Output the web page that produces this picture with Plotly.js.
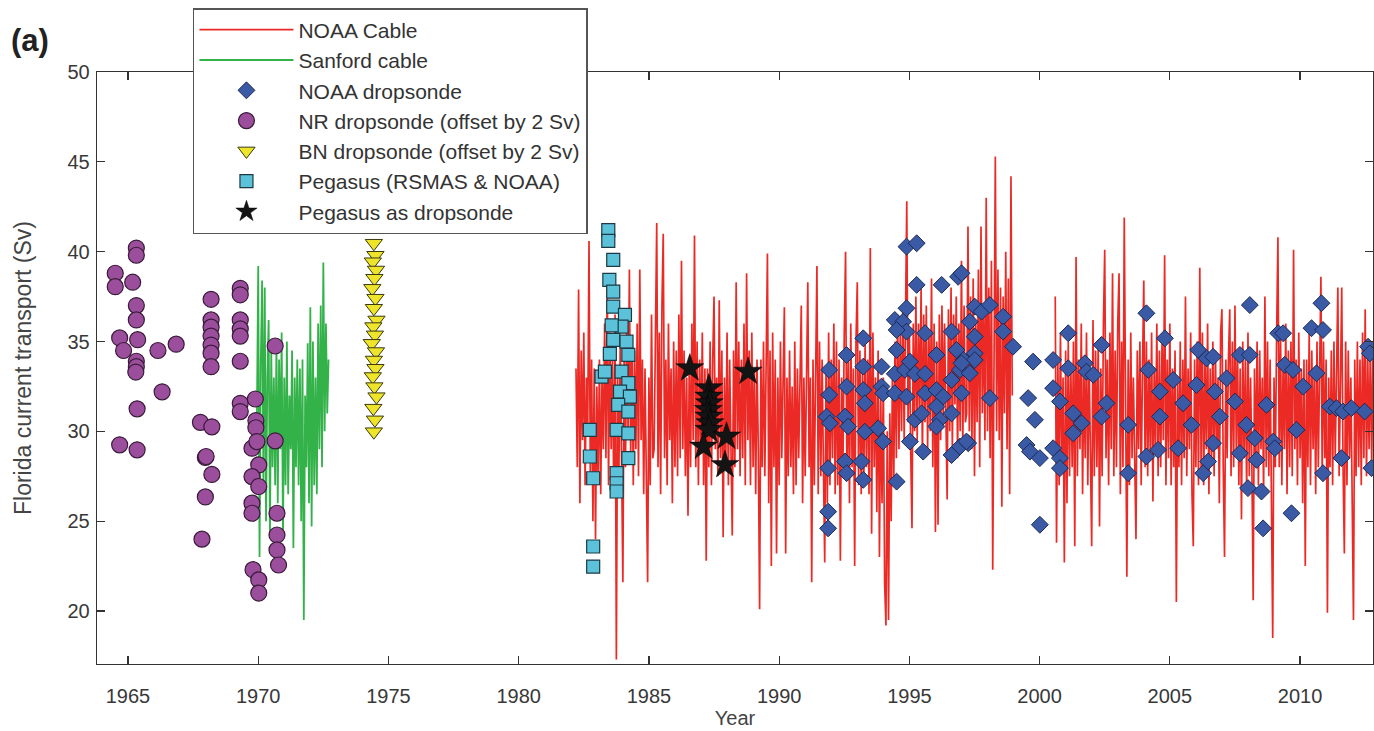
<!DOCTYPE html>
<html>
<head>
<meta charset="utf-8">
<script src="https://cdn.plot.ly/plotly-3.0.1.min.js"></script>
<style>html,body{margin:0;padding:0;background:#fff}#chart{width:1374px;height:731px}</style>
</head>
<body>
<div id="chart"></div>
<script>
// ---------- DATA ----------
// NOAA cable: sampled every 0.05 yr from 1982.2 (null = no data)
const cableStart = 1982.2;
const cableStep = 0.05;
const noaaCableSv = [
  33.5,28.0,37.9,26.0,34.5,29.5,35.5,27.0,33.0,30.0,40.6,27.5,34.0,25.0,33.5,24.0,32.5,27.0,34.0,26.5,
  33.0,29.0,36.0,28.5,38.5,27.0,35.5,29.0,34.0,26.5,36.5,17.3,33.0,28.0,35.0,27.5,21.6,34.5,28.0,36.0,
  30.0,39.0,28.5,35.0,27.0,34.5,29.0,36.0,27.5,39.0,29.5,34.0,26.5,33.5,28.0,21.6,33.0,27.0,36.5,28.5,
  29.0,34.0,41.6,28.0,35.5,26.5,37.0,41.0,28.5,34.0,27.0,36.0,29.5,33.5,26.0,35.0,28.0,34.5,27.5,36.5,
  28.5,39.5,29.0,34.5,27.5,33.0,25.3,34.0,28.0,36.0,29.5,40.9,28.0,35.0,27.0,34.0,29.0,35.5,27.0,33.5,
  22.8,33.5,28.0,35.0,27.0,34.0,37.5,29.0,33.0,27.5,37.3,28.5,34.5,24.1,33.0,28.0,35.5,27.0,34.0,29.0,
  24.2,34.5,28.0,38.3,29.0,35.0,27.5,34.0,28.5,36.0,27.0,38.8,29.5,34.5,27.0,35.5,28.0,33.5,26.5,34.0,
  29.0,20.1,34.0,28.0,35.0,27.5,33.5,39.9,26.0,34.5,22.5,35.5,28.0,34.0,23.2,33.0,27.0,35.0,28.5,34.0,
  36.9,23.2,33.0,27.5,34.5,28.0,32.5,26.5,35.0,27.0,33.5,28.5,34.0,37.0,26.0,33.0,27.5,34.5,38.3,28.0,
  33.0,21.6,34.0,27.0,33.5,39.2,26.5,35.0,27.5,34.0,28.0,22.7,33.5,26.0,35.5,27.0,34.0,28.5,36.0,26.5,
  35.0,27.0,34.0,22.8,33.0,28.0,35.5,40.0,27.5,34.0,26.0,36.0,28.0,33.5,22.5,35.0,38.3,27.0,34.5,26.5,
  33.5,27.0,35.0,28.0,34.0,26.5,40.2,24.3,35.5,28.0,33.0,25.5,34.5,23.0,32.0,26.0,33.0,21.5,19.2,30.0,
  19.5,31.0,25.0,33.5,27.0,35.0,28.5,36.5,29.0,35.5,30.0,37.0,29.5,36.0,42.8,30.5,35.5,29.0,24.6,36.0,
  30.0,37.5,29.5,36.0,31.0,38.0,28.5,36.5,30.5,37.0,29.0,35.5,30.0,38.5,28.0,36.0,24.4,35.0,24.8,36.5,
  29.5,37.0,30.5,36.0,31.0,26.2,36.8,30.0,38.0,29.0,36.5,31.5,37.5,28.5,36.0,30.0,39.5,29.0,37.0,30.5,
  31.0,41.4,30.0,37.5,29.0,38.5,27.5,36.0,30.5,39.0,28.0,41.4,31.0,37.0,29.5,43.0,30.0,38.0,28.5,39.5,
  22.3,36.0,45.3,30.0,39.0,29.5,38.0,25.8,37.5,31.0,40.0,29.0,38.5,26.5,44.2,32.0,null,null,null,null,
  null,null,null,null,null,null,null,null,null,null,null,null,null,null,null,null,null,null,null,null,
  null,null,null,null,null,null,null,null,37.5,23.8,34.0,27.0,35.5,28.0,33.0,22.7,34.5,26.0,35.0,27.5,
  33.5,28.0,35.0,23.6,39.7,27.5,34.0,29.0,36.0,26.5,33.5,28.5,35.5,27.0,34.0,29.5,23.6,36.2,27.5,34.5,
  28.0,35.0,24.7,33.5,27.5,36.0,40.1,28.5,34.0,27.0,35.5,29.0,38.8,27.5,34.5,28.0,36.0,38.8,26.5,35.0,
  28.0,41.9,30.0,21.9,34.0,27.0,35.5,28.5,33.0,27.5,24.0,34.5,29.0,35.0,27.0,33.5,38.4,28.0,35.0,27.5,
  34.0,28.5,35.5,26.1,33.5,29.0,36.0,27.5,34.5,28.0,35.0,29.5,39.8,27.0,34.0,28.5,36.0,27.0,33.5,28.0,
  34.5,20.5,33.0,28.0,35.0,27.0,34.0,28.5,37.5,27.5,33.5,29.0,35.5,26.5,23.6,34.0,28.0,35.0,27.0,39.1,
  28.0,35.5,27.0,34.0,29.0,36.0,26.5,33.5,28.5,35.0,27.5,34.5,29.0,33.0,26.0,35.5,36.8,28.0,23.0,34.0,
  28.5,34.0,36.8,27.5,35.0,28.0,37.0,29.0,34.5,27.0,33.5,25.1,35.0,28.5,34.0,26.5,35.5,27.5,33.0,28.0,
  20.6,33.5,28.0,35.0,27.0,34.5,29.0,33.0,26.5,37.5,28.0,35.0,27.5,34.0,26.0,18.5,33.0,28.0,35.5,40.8,
  28.0,35.5,27.0,34.0,29.0,36.0,26.5,34.5,28.0,35.0,27.5,40.1,29.0,34.0,27.0,35.5,28.5,33.5,26.0,34.0,
  22.5,34.0,28.0,35.5,27.0,34.5,29.0,33.5,26.5,35.0,28.0,34.0,38.6,27.5,35.0,28.5,34.0,19.9,33.0,28.0,
  34.5,27.0,35.0,28.5,33.5,38.0,27.5,34.0,38.0,28.0,23.2,35.0,27.0,34.5,28.5,33.0,26.5,19.5,34.0,27.5,
  35.0,28.0,34.0,27.0,35.5,28.5,36.8,27.5,34.0,29.0,35.0,28.0,34.5
];

// Sanford cable: sampled every 0.05 yr from 1969.95
const sanfordStart = 1969.95;
const sanfordStep = 0.05;
const sanfordCableSv = [
  31.0,39.2,23.0,34.0,38.4,27.0,38.0,25.0,33.0,36.2,24.1,34.5,28.0,33.0,27.0,35.0,26.0,34.0,29.0,35.5,
  24.0,33.0,27.0,35.0,26.5,32.0,29.0,34.5,23.5,33.0,28.0,34.0,27.0,33.5,25.0,34.0,19.5,32.0,28.0,34.9,
  26.0,36.9,24.7,35.0,27.0,33.0,26.5,36.0,29.0,37.0,28.0,39.4,30.0,36.0,31.0,34.0
];

const noaaDropYear = [
  1994.89,1995.28,1995.28,1996.24,1996.87,1997.0,1997.51,1994.89,1994.44,1994.76,1994.89,1994.51,1994.51,1995.6,1996.62,1997.32,
  1993.23,1992.59,1991.92,1993.23,1993.93,1994.44,1994.83,1995.21,1995.6,1995.02,1996.04,1996.81,1997.07,1996.94,1997.32,
  1991.92,1992.59,1993.23,1993.29,1993.93,1993.99,1994.44,1994.89,1995.6,1996.04,1996.3,1996.62,1997.0,1995.21,1995.47,
  1996.04,1996.17,1996.62,1996.04,1991.82,1991.95,1992.53,1992.65,1993.29,1993.8,1993.99,1995.02,1995.53,1996.62,1996.94,
  1997.26,1991.88,1992.53,1992.59,1993.16,1993.23,1994.51,1991.88,1991.88,
  1997.77,1998.09,1998.6,1998.6,1998.98,1997.51,1997.51,1997.51,1997.0,1998.09,1997.19,1999.75,1999.56,1999.82,1999.5,
  1999.63,2000.01,2000.01,2000.52,2000.52,2000.78,2000.52,2000.78,2000.78,2001.1,2001.1,2001.29,2001.61,2001.29,2001.74,
  2001.8,2002.06,2002.38,2002.57,2002.38,2003.4,2003.4,2004.1,2004.17,2004.62,2004.62,2004.1,2004.55,2004.81,
  2005.13,2005.32,2005.51,2005.83,2006.09,2006.02,2006.41,2006.66,2006.28,2006.47,2006.66,2006.73,2006.92,2007.18,2007.5,
  2007.69,2008.07,2008.07,2007.69,2007.94,2008.26,2008.0,2008.52,2008.33,2008.58,2008.71,2008.97,2009.03,2009.16,2009.35,
  2009.41,2009.73,2009.67,2009.86,2010.12,2010.44,2010.63,2010.82,2010.88,2010.88,2011.14,2011.4,2011.65,2011.97,2012.48,
  2011.59,2012.61,2012.68,2012.74
];
const noaaDropSv = [
  40.28,40.47,38.15,38.15,38.6,38.8,36.94,36.85,36.2,36.1,35.55,35.64,34.53,35.46,35.55,36.1,
  35.18,34.25,33.42,33.6,33.6,33.2,33.42,33.2,33.2,33.88,34.25,34.53,33.97,33.42,33.23,
  32.03,32.49,32.3,31.56,32.49,32.12,32.12,31.93,32.12,32.3,31.93,32.86,32.12,30.64,31.0,
  31.38,30.64,31.0,30.27,30.82,30.45,30.82,30.27,29.98,30.17,29.43,29.43,28.87,28.68,29.15,
  29.34,27.95,28.32,27.67,28.32,27.3,27.2,25.53,24.6,
  36.66,37.03,36.38,35.55,34.71,35.27,34.34,33.97,33.79,31.85,29.43,33.88,31.85,30.64,29.24,
  28.87,28.51,24.8,33.97,32.4,31.66,29.06,28.51,27.95,35.46,33.51,31.0,30.45,29.89,33.79,
  33.32,33.14,34.81,31.56,30.82,30.36,27.67,36.57,33.42,32.21,30.82,28.6,28.97,35.18,
  32.86,29.06,31.56,30.36,34.53,32.58,34.06,34.15,27.67,28.32,29.34,32.21,30.82,32.95,31.66,
  34.25,34.25,37.03,28.78,30.36,29.62,26.84,26.65,28.41,24.6,31.47,29.43,29.06,35.46,35.46,
  33.7,33.42,25.44,30.08,32.49,35.74,33.23,37.13,35.64,27.67,31.38,31.29,31.1,31.29,31.1,
  28.51,34.71,34.34,27.95
];

const nrDropYear = [
  1965.32,1965.32,1964.51,1964.51,1965.18,1965.32,1965.32,1964.68,1964.83,1965.37,1965.32,1965.32,1965.30,1966.15,1966.85,1966.31,1965.35,1964.68,1965.35,
  1968.19,1968.19,1968.19,1968.19,1968.19,1968.19,1968.19,1967.78,1968.22,1967.97,1968.0,1968.22,1967.97,1967.84,
  1969.31,1969.31,1969.31,1969.31,1969.31,1969.31,1969.31,1969.31,1969.89,1969.91,1969.91,1969.76,1969.95,1970.65,1970.02,1969.76,1970.02,1969.76,1969.76,1969.8,1970.02,1970.02,1970.65,1970.72,1970.72,1970.72,1970.78
];
const nrDropSv = [
  40.2,39.8,38.8,38.05,38.3,37.0,36.2,35.2,34.5,35.1,33.9,33.6,33.3,34.5,34.85,32.2,31.25,29.25,28.97,
  37.35,36.2,35.8,35.3,34.8,34.35,33.6,30.5,30.25,28.55,28.6,27.6,26.35,24.0,
  37.96,37.6,36.2,35.7,35.3,33.9,31.56,31.1,31.8,30.6,30.2,29.06,29.43,29.47,28.13,27.48,26.93,26.0,25.44,22.3,21.73,21.0,34.75,25.44,24.23,23.4,22.56
];

const bnDropYear = [1974.44,1974.5,1974.4,1974.52,1974.46,1974.38,1974.5,1974.44,1974.54,1974.42,1974.48,1974.36,1974.52,1974.44,1974.5,1974.4,1974.46,1974.54,1974.42,1974.48,1974.44];
const bnDropSv = [40.47,39.8,39.44,38.98,38.52,37.96,37.41,36.85,36.2,35.83,35.37,34.9,34.44,33.97,33.51,33.05,32.49,31.93,31.29,30.64,29.98];

const pegasusYear = [1983.44,1983.44,1983.63,1983.48,1983.63,1983.63,1984.08,1983.95,1983.57,1983.63,1984.14,1983.5,1984.21,1983.18,1983.31,1983.95,1984.21,1983.89,1984.27,1983.82,1984.21,1983.76,1984.21,1982.73,1982.73,1982.86,1983.76,1983.76,1983.76,1984.21,1982.86,1982.86];
const pegasusSv = [41.2,40.6,39.54,38.43,37.78,36.94,36.48,35.83,35.9,35.09,34.99,34.31,34.25,33.05,33.32,33.32,32.68,32.21,31.93,31.47,31.1,30.08,29.89,30.08,28.6,27.39,27.67,27.11,26.65,28.51,23.59,22.47];

const pegDropYear = [1986.57,1988.81,1987.3,1987.3,1987.32,1987.28,1987.3,1987.34,1987.3,1987.1,1987.98,1987.92];
const pegDropSv = [33.51,33.32,32.4,31.93,31.56,31.19,30.82,30.45,30.08,29.15,29.71,28.13];

const seriesNames = ["NOAA Cable","Sanford cable","NOAA dropsonde","NR dropsonde (offset by 2 Sv)","BN dropsonde (offset by 2 Sv)","Pegasus (RSMAS & NOAA)","Pegasus as dropsonde"];
const xTickVals = [1965,1970,1975,1980,1985,1990,1995,2000,2005,2010];
const yTickVals = [20,25,30,35,40,45,50];

// ---------- CHART ----------
const cableYears = noaaCableSv.map((_, i) => +(cableStart + i * cableStep).toFixed(3));
const sanfordYears = sanfordCableSv.map((_, i) => +(sanfordStart + i * sanfordStep).toFixed(3));

const FONT = "Liberation Sans, Arial, Helvetica, sans-serif";

const traces = [
  {type:"scatter", mode:"lines", name:seriesNames[0], legendgroup:"g1", x:cableYears, y:noaaCableSv,
   line:{color:"#ec2a25", width:1.7}, connectgaps:false},
  {type:"scatter", mode:"lines", name:seriesNames[1], legendgroup:"g2", x:sanfordYears, y:sanfordCableSv,
   line:{color:"#33b24a", width:1.8}},
  {type:"scatter", mode:"markers", name:seriesNames[2], legendgroup:"g3", x:noaaDropYear, y:noaaDropSv,
   marker:{symbol:"diamond", size:13, color:"#3b5aa6", line:{color:"#1c2a55", width:1}}},
  {type:"scatter", mode:"markers", name:seriesNames[3], legendgroup:"g4", x:nrDropYear, y:nrDropSv,
   marker:{symbol:"circle", size:16, color:"#9b4e9b", line:{color:"#3a1a3a", width:1.2}}},
  {type:"scatter", mode:"markers", name:seriesNames[4], legendgroup:"g5", x:bnDropYear, y:bnDropSv,
   marker:{symbol:"triangle-down", size:15, color:"#eee42a", line:{color:"#3a3a10", width:1}}},
  {type:"scatter", mode:"markers", name:seriesNames[5], legendgroup:"g6", x:pegasusYear, y:pegasusSv,
   marker:{symbol:"square", size:13, color:"#5cc2da", line:{color:"#1c3a44", width:1.2}}},
  {type:"scatter", mode:"markers", name:seriesNames[6], legendgroup:"g7", x:pegDropYear, y:pegDropSv,
   marker:{symbol:"star", size:21, color:"#141414", line:{color:"#000", width:0.5}}}
];

const axisCommon = {
  showline:true, linecolor:"#333", linewidth:1.3, mirror:"ticks",
  ticks:"inside", ticklen:8, tickwidth:1.3, tickcolor:"#333",
  showgrid:false, zeroline:false,
  tickfont:{family:FONT, size:20, color:"#383838"}
};

const layout = {
  width:1374, height:731,
  margin:{l:97, r:1, t:72, b:67, pad:0},
  paper_bgcolor:"#fff", plot_bgcolor:"#fff",
  font:{family:FONT, color:"#333"},
  showlegend:true,
  xaxis:Object.assign({}, axisCommon, {
    range:[1963.81, 2012.8], tickmode:"array", tickvals:xTickVals, ticklabelstandoff:14,
    title:{text:"Year", font:{family:FONT, size:20, color:"#444"}, standoff:4}
  }),
  yaxis:Object.assign({}, axisCommon, {
    range:[17.05, 50], tickmode:"array", tickvals:yTickVals, ticklabelstandoff:2,
    title:{text:"Florida current transport (Sv)", font:{family:FONT, size:23, color:"#444"}, standoff:29}
  }),
  legend:{
    x:0.0752, y:1.108, xanchor:"left", yanchor:"top",
    bgcolor:"#fff", bordercolor:"#555", borderwidth:1.5,
    font:{family:FONT, size:21, color:"#333"},
    traceorder:"grouped", tracegroupgap:0, itemwidth:94
  },
  annotations:[
    {text:"<b>(a)</b>", xref:"paper", yref:"paper", x:-0.069, y:1.054, xanchor:"left", yanchor:"middle",
     showarrow:false, font:{family:FONT, size:31, color:"#222"}}
  ]
};

Plotly.newPlot("chart", traces, layout, {displayModeBar:false, staticPlot:true});
</script>
</body>
</html>
